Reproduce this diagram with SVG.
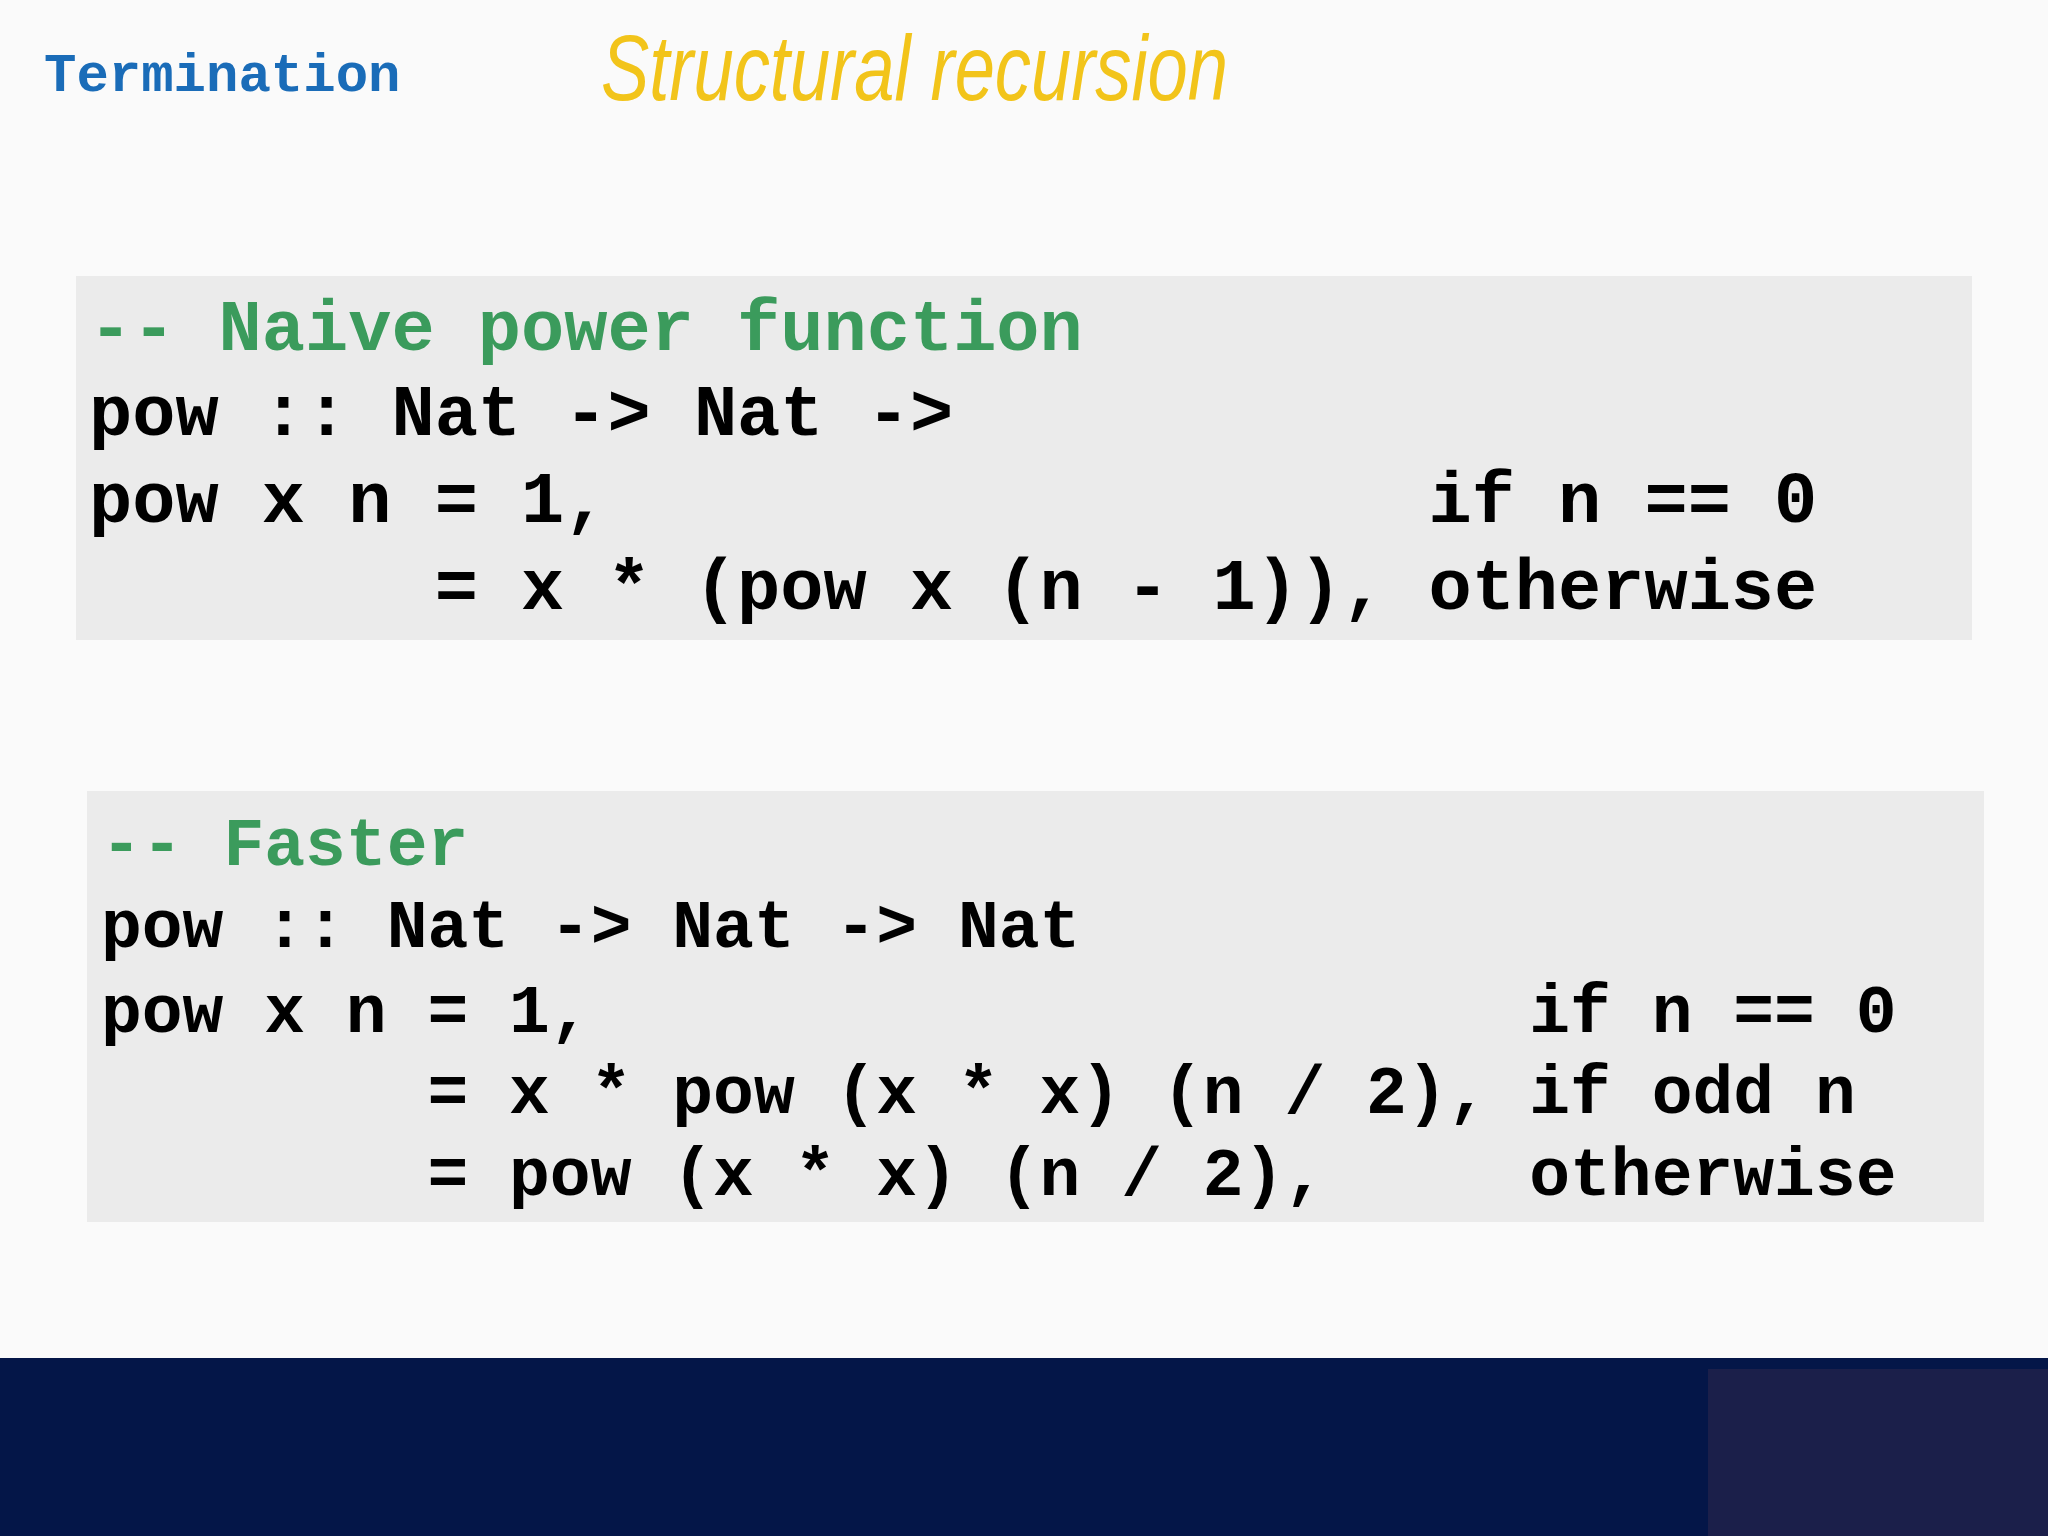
<svg xmlns="http://www.w3.org/2000/svg" width="2048" height="1536" viewBox="0 0 2048 1536">
<style>
.c{font-family:"Liberation Mono","Courier New",monospace;font-weight:bold;fill:#000;white-space:pre}
.g{fill:#3b9b5c}
.b1{font-size:72px}
.b2{font-size:68px}
</style>
<rect width="2048" height="1536" fill="#fafafa"/>
<text x="44" y="91" font-family="Liberation Mono, monospace" font-weight="bold" font-size="54" fill="#1a6cb8">Termination</text>
<text x="601" y="100" font-family="Liberation Sans, sans-serif" font-style="italic" font-size="92" fill="#f2c41a" textLength="627" lengthAdjust="spacingAndGlyphs">Structural recursion</text>
<g id="box1">
<rect x="76" y="276" width="1896" height="364" fill="#ebebeb"/>
<text class="c b1 g" x="89" y="350" xml:space="preserve">-- Naive power function</text>
<text class="c b1" x="89" y="435" xml:space="preserve">pow :: Nat -&gt; Nat -&gt;</text>
<text class="c b1" x="89" y="522" xml:space="preserve">pow x n = 1,                   if n == 0</text>
<text class="c b1" x="89" y="609" xml:space="preserve">        = x * (pow x (n - 1)), otherwise</text>
</g>
<g id="box2">
<rect x="87" y="791" width="1897" height="431" fill="#ebebeb"/>
<text class="c b2 g" x="101" y="865" xml:space="preserve">-- Faster</text>
<text class="c b2" x="101" y="947" xml:space="preserve">pow :: Nat -&gt; Nat -&gt; Nat</text>
<text class="c b2" x="101" y="1032" xml:space="preserve">pow x n = 1,                       if n == 0</text>
<text class="c b2" x="101" y="1113" xml:space="preserve">        = x * pow (x * x) (n / 2), if odd n</text>
<text class="c b2" x="101" y="1195" xml:space="preserve">        = pow (x * x) (n / 2),     otherwise</text>
</g>
<rect x="0" y="1358" width="2048" height="178" fill="#041648"/>
<rect x="1708" y="1369" width="340" height="167" fill="#1b1f4a"/>
</svg>
